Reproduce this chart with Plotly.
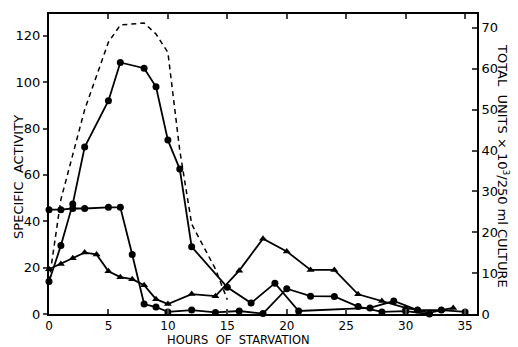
import plotly.graph_objects as go

# Series A: circles, large peak (specific activity)
a_x = [0, 1, 2, 3, 5, 6, 8, 9, 10, 11, 12, 15, 17, 19, 21, 27, 29, 31, 33, 35]
a_y = [14, 29.5, 47.5, 72, 92, 108.5, 106, 98, 75, 62.5, 29, 11.5, 4.7, 13.3, 1.3, 2.6, 5.6, 1.7, 1.7, 0.9]

# Series B: circles, plateau near 45
b_x = [0, 1, 2, 3, 5, 6, 7, 8, 9, 10, 12, 14, 16, 18, 20, 22, 24, 26, 28, 30, 32]
b_y = [45, 45, 45.5, 45.5, 46, 46, 25.7, 4.3, 3, 0.9, 1.7, 0.7, 1.3, 0.2, 10.9, 7.7, 7.6, 3.2, 0.9, 1.2, 0]

# Series C: triangles
c_x = [0, 1, 2, 3, 4, 5, 6, 7, 8, 9, 10, 12, 14, 16, 18, 20, 22, 24, 26, 28, 30, 31, 32, 33, 34]
c_y = [19.3, 21.6, 24, 26.5, 25.7, 18.4, 15.9, 15, 12.4, 6.4, 4.3, 8.6, 7.7, 18.7, 32.5, 27, 19, 19, 8.5, 5.6, 2.6, 1.7, 0.5, 1.7, 2.6]

# Dashed: total units x 10^3 / 250 ml culture (right axis)
d_x = [0, 1, 2, 3, 5, 6, 8, 9, 10, 11, 12, 14, 15]
d_y = [8, 28, 39, 50, 66.5, 70.7, 71.2, 68.5, 64, 40, 22, 11, 3.5]

x_ticks = [0, 5, 10, 15, 20, 25, 30, 35]
y_ticks = [0, 20, 40, 60, 80, 100, 120]
y2_ticks = [0, 10, 20, 30, 40, 50, 60, 70]

FONT = "DejaVu Sans"
W, H = 518, 347
L, R, T, B = 49, 41, 12, 33
pw, ph = W - L - R, H - T - B

fig = go.Figure()

fig.add_trace(go.Scatter(x=d_x, y=d_y, yaxis="y2", mode="lines",
                         line=dict(color="black", width=1.5, dash="5px,4px"),
                         showlegend=False, cliponaxis=False))
for xs, ys, sym in [(a_x, a_y, "circle"), (b_x, b_y, "circle"), (c_x, c_y, "triangle-up")]:
    fig.add_trace(go.Scatter(x=xs, y=ys, mode="lines+markers",
                             line=dict(color="black", width=1.8),
                             marker=dict(symbol=sym, size=7, color="black"),
                             showlegend=False, cliponaxis=False))


def px_ann(text, x, y, angle=0, size=13):
    return dict(text=text, xref="paper", yref="paper",
                x=(x - L) / pw, y=(H - B - y) / ph,
                xanchor="center", yanchor="middle", textangle=angle,
                showarrow=False, font=dict(size=size, family=FONT, color="black"))


fig.update_layout(
    width=W, height=H,
    margin=dict(l=L, r=R, t=T, b=B),
    paper_bgcolor="white", plot_bgcolor="white",
    font=dict(family=FONT, size=13, color="black"),
    xaxis=dict(range=[0, 36], tickvals=x_ticks, ticks="inside", ticklen=5,
               tickwidth=1.5, showline=True, linecolor="black", linewidth=2,
               mirror="ticks", showgrid=False, zeroline=False,
               tickfont=dict(size=12), ticklabelstandoff=0),
    yaxis=dict(range=[0, 129.4], tickvals=y_ticks, ticks="outside", ticklen=4,
               tickwidth=1.5, showline=True, linecolor="black", linewidth=2,
               showgrid=False, zeroline=False, tickfont=dict(size=13)),
    yaxis2=dict(range=[0, 73.4], tickvals=y2_ticks, overlaying="y", side="right",
                ticks="inside", ticklen=5, tickwidth=1.5, showline=True,
                linecolor="black", linewidth=2, showgrid=False, zeroline=False,
                tickfont=dict(size=13)),
    annotations=[
        px_ann("HOURS  OF  STARVATION", 238, 340, 0, 11.5),
        px_ann("SPECIFIC  ACTIVITY", 19, 176, -90, 13),
        px_ann("TOTAL  UNITS × 10<sup>3</sup>/250 ml CULTURE", 503, 165, 90, 13),
    ],
)

fig.write_html("out.html")
